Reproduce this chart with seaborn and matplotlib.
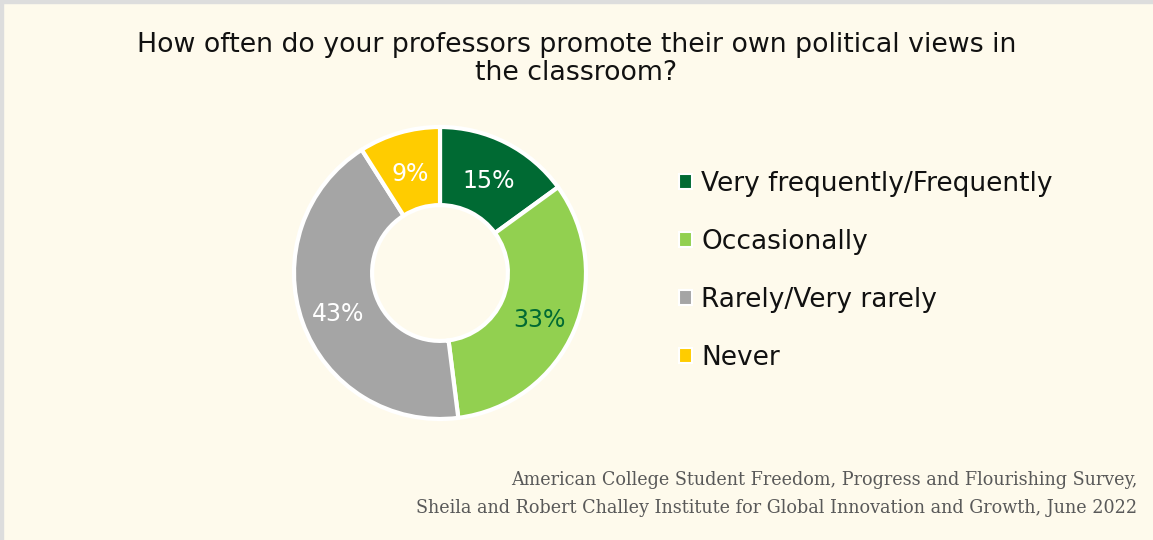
import matplotlib
matplotlib.use("Agg")
import matplotlib.pyplot as plt
import seaborn as sns
from matplotlib.patches import Patch, Rectangle

categories = ["Very frequently/Frequently", "Occasionally", "Rarely/Very rarely", "Never"]
shares = [15, 33, 43, 9]
colors = ["#006A33", "#92D050", "#A5A5A5", "#FFCC00"]
label_colors = ["white", "#006A33", "white", "white"]

title = "How often do your professors promote their own political views in\nthe classroom?"
source = ("American College Student Freedom, Progress and Flourishing Survey,\n"
          "Sheila and Robert Challey Institute for Global Innovation and Growth, June 2022")

bg = "#FEFAEC"
sns.set_theme(style="white")
plt.rcParams["font.family"] = ["DejaVu Sans"]

W, H = 1153, 540
fig = plt.figure(figsize=(W / 100, H / 100), dpi=100, facecolor=bg)

# thin grey frame along the top and left edges
fig.patches.append(Rectangle((0, 1 - 3 / H), 1, 3 / H, transform=fig.transFigure,
                             color="#DDDDDD", zorder=0))
fig.patches.append(Rectangle((0, 0), 3 / W, 1, transform=fig.transFigure,
                             color="#DDDDDD", zorder=0))

cx, cy, r = 440, 273, 146
ax = fig.add_axes([(cx - r) / W, (H - cy - r) / H, 2 * r / W, 2 * r / H])
ax.set_facecolor(bg)

wedges, texts, autotexts = ax.pie(
    shares, colors=colors, startangle=90, counterclock=False,
    autopct=lambda p: f"{p:.0f}%", pctdistance=0.74,
    wedgeprops=dict(width=0.535, edgecolor="white", linewidth=3),
    textprops=dict(fontsize=17),
)
for t, c in zip(autotexts, label_colors):
    t.set_color(c)
    x, y = t.get_position()
    t.set_position((x, y - 0.03))
ax.set_xlim(-1.0, 1.0)
ax.set_ylim(-1.0, 1.0)
ax.set_aspect("equal")
ax.axis("off")

fig.text(0.5, 1 - 59 / H, title, ha="center", va="center", fontsize=19.3,
         color="#111111", linespacing=1.05)

handles = [Patch(facecolor=c, edgecolor="white", linewidth=1.5) for c in colors]
leg = fig.legend(handles, categories, loc="upper left",
                 bbox_to_anchor=(655 / W, 1 - 147 / H), frameon=False,
                 fontsize=19, handlelength=0.5, handleheight=0.5,
                 handletextpad=0.35, labelspacing=1.22)
for t in leg.get_texts():
    t.set_color("#111111")

fig.text(1137 / W, 1 - 494 / H, source, ha="right", va="center", fontsize=14,
         color="#595959", family="DejaVu Serif", fontstretch="condensed",
         linespacing=1.65)

fig.savefig("out.png", dpi=100, facecolor=bg)
